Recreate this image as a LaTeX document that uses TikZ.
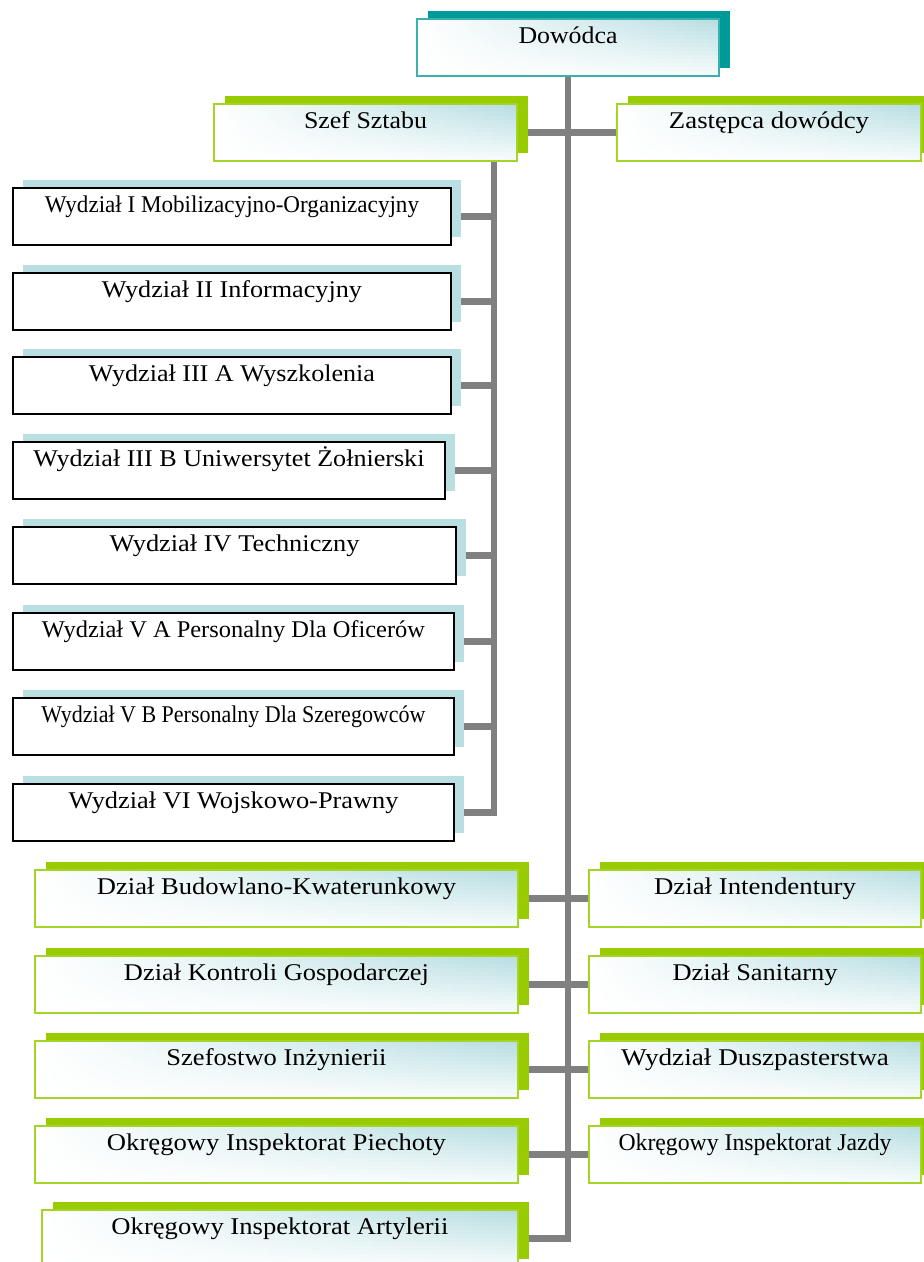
\documentclass[tikz,border=0pt]{standalone}
\usepackage{fontspec}
\setmainfont{Liberation Serif}
\usepackage{graphicx}
\usetikzlibrary{shadows,calc}
\pgfdeclarelayer{bg}
\pgfsetlayers{bg,main}
\definecolor{tealdark}{RGB}{0,153,153}
\definecolor{tealedge}{RGB}{60,175,175}
\definecolor{grn}{RGB}{153,204,0}
\definecolor{grnedge}{RGB}{165,212,40}
\definecolor{lblue}{RGB}{186,223,227}
\definecolor{tint}{RGB}{184,222,226}
\definecolor{connc}{RGB}{128,128,128}
\newcommand{\tx}[2]{\resizebox{#1pt}{\height}{#2}}
\begin{document}
\begin{tikzpicture}[x=1pt,y=-1pt,
 box/.style={anchor=north west, inner sep=0pt, minimum height=57pt, text height=24pt, text depth=33pt, font=\fontsize{24}{28}\selectfont, line width=2pt},
 sh/.style={fill=white, path picture={
   \foreach \i in {0,...,13}{
     \pgfmathsetmacro{\p}{100-\i*6.5}
     \pgfmathsetmacro{\ta}{\i/14}
     \pgfmathsetmacro{\tb}{(\i+1.1)/14}
     \shade[left color=white, right color=tint!\p!white]
       ($(path picture bounding box.north west)!\ta!(path picture bounding box.south west)$)
       rectangle
       ($(path picture bounding box.north east)!\tb!(path picture bounding box.south east)$);
   }}},
 chief/.style={box, sh, draw=tealedge, general shadow={shadow xshift=11pt, shadow yshift=8pt, fill=tealdark}},
 gbox/.style={box, sh, draw=grnedge, general shadow={shadow xshift=11pt, shadow yshift=8pt, fill=grn}},
 wbox/.style={box, draw=black, fill=white, general shadow={shadow xshift=10pt, shadow yshift=8pt, fill=lblue}},
 link/.style={draw=connc, line width=6.5pt, line join=miter}
]
\useasboundingbox (0,0) rectangle (924,1262);

\node[chief, minimum width=302pt] (dow) at (416,18) {\tx{99}{Dowódca}};
\node[gbox, minimum width=303pt] (szef) at (213,103) {\tx{123}{Szef Sztabu}};
\node[gbox, minimum width=304pt] (zast) at (616,103) {\tx{200}{Zastępca dowódcy}};

\node[wbox, minimum width=438pt] (w1) at (12,187) {\tx{374}{Wydział I Mobilizacyjno-Organizacyjny}};
\node[wbox, minimum width=438pt] (w2) at (12,272) {\tx{260}{Wydział II Informacyjny}};
\node[wbox, minimum width=438pt] (w3a) at (12,356) {\tx{286}{Wydział III A Wyszkolenia}};
\node[wbox, minimum width=432pt] (w3b) at (12,441) {\tx{391}{Wydział III B Uniwersytet Żołnierski}};
\node[wbox, minimum width=443pt] (w4) at (12,526) {\tx{250}{Wydział IV Techniczny}};
\node[wbox, minimum width=441pt] (w5a) at (12,612) {\tx{383}{Wydział V A Personalny Dla Oficerów}};
\node[wbox, minimum width=441pt] (w5b) at (12,697) {\tx{384}{Wydział V B Personalny Dla Szeregowców}};
\node[wbox, minimum width=441pt] (w6) at (12,783) {\tx{330}{Wydział VI Wojskowo-Prawny}};

\node[gbox, minimum width=483pt] (bud) at (34,869) {\tx{359}{Dział Budowlano-Kwaterunkowy}};
\node[gbox, minimum width=332pt] (int) at (588,869) {\tx{202}{Dział Intendentury}};
\node[gbox, minimum width=483pt] (kon) at (34,955) {\tx{305}{Dział Kontroli Gospodarczej}};
\node[gbox, minimum width=332pt] (san) at (588,955) {\tx{165}{Dział Sanitarny}};
\node[gbox, minimum width=483pt] (szf) at (34,1040) {\tx{220}{Szefostwo Inżynierii}};
\node[gbox, minimum width=332pt] (dus) at (588,1040) {\tx{268}{Wydział Duszpasterstwa}};
\node[gbox, minimum width=483pt] (pie) at (34,1125) {\tx{339}{Okręgowy Inspektorat Piechoty}};
\node[gbox, minimum width=332pt] (jaz) at (588,1125) {\tx{273}{Okręgowy Inspektorat Jazdy}};
\node[gbox, minimum width=476pt] (art) at (41,1209) {\tx{337}{Okręgowy Inspektorat Artylerii}};

\coordinate (sub) at (494,155);

\begin{pgfonlayer}{bg}
\draw[link] (dow.south) -- (art.east -| dow.south) -- (art.east);
\draw[link] (szef.east) -- (zast.west);
\draw[link] (sub) -- (w6.east -| sub) -- (w6.east);
\foreach \n in {w1,w2,w3a,w3b,w4,w5a,w5b}
  \draw[link] (\n.east) -- (\n.east -| sub);
\draw[link] (bud.east) -- (int.west);
\draw[link] (kon.east) -- (san.west);
\draw[link] (szf.east) -- (dus.west);
\draw[link] (pie.east) -- (jaz.west);
\end{pgfonlayer}
\end{tikzpicture}
\end{document}
